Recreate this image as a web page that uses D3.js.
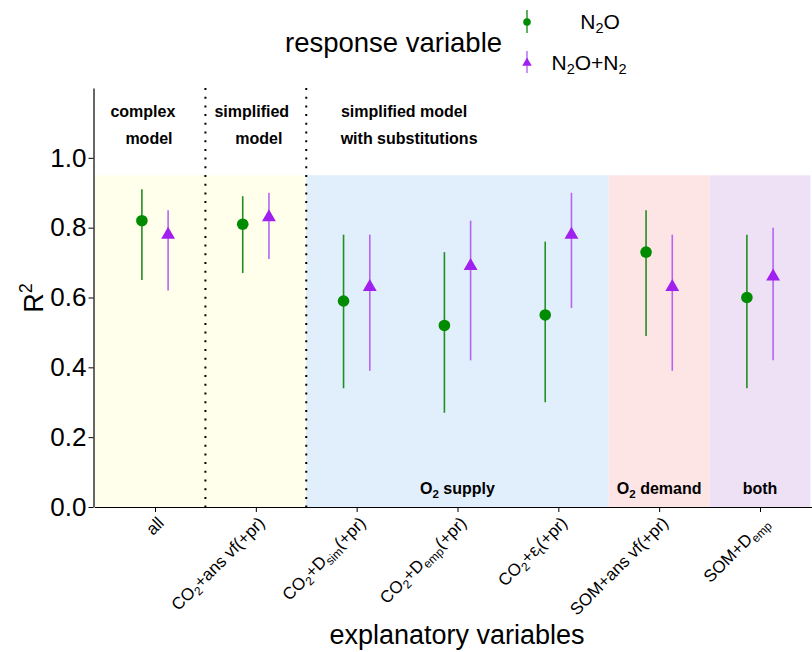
<!DOCTYPE html>
<html><head><meta charset="utf-8">
<script src="https://cdn.jsdelivr.net/npm/d3@7/dist/d3.min.js"></script>
<style>
body{margin:0;background:#fff;}
text{font-family:"Liberation Sans",Arial,Helvetica,sans-serif;}
</style></head>
<body><svg id="c" width="812" height="652"></svg>
<script>
// ---- data ----
const categories = ["all","CO2+ansvf(+pr)","CO2+Dsim(+pr)","CO2+Demp(+pr)","CO2+et(+pr)","SOM+ansvf(+pr)","SOM+Demp"];
// tick label parts: [text, isSub]
const tickLabelParts = [
  [["all",0]],
  [["CO",0],["2",1],["+ans vf(+pr)",0]],
  [["CO",0],["2",1],["+D",0],["sim",1],["(+pr)",0]],
  [["CO",0],["2",1],["+D",0],["emp",1],["(+pr)",0]],
  [["CO",0],["2",1],["+\u03b5",0],["t",1],["(+pr)",0]],
  [["SOM+ans vf(+pr)",0]],
  [["SOM+D",0],["emp",1]]
];
const seriesNames = ["N2O","N2O+N2"];
const n2oR2    = [0.82,0.81,0.59,0.52,0.55,0.73,0.60];
const n2oLow   = [0.65,0.67,0.34,0.27,0.30,0.49,0.34];
const n2oHigh  = [0.91,0.89,0.78,0.73,0.76,0.85,0.78];
const totR2    = [0.78,0.83,0.63,0.69,0.78,0.63,0.66];
const totLow   = [0.62,0.71,0.39,0.42,0.57,0.39,0.42];
const totHigh  = [0.85,0.90,0.78,0.82,0.90,0.78,0.80];
const yTicks = [0,0.2,0.4,0.6,0.8,1.0];
// background regions (in category-index units) and their labels
const regionFrom  = [0.4,2.5,5.5,6.5];
const regionTo    = [2.5,5.5,6.5,7.5];
const regionFills = ["#ffffeb","#e1eefb","#fee5e5","#efe1f5"];
const regionLabels = [null,[["O",0],["2",1],[" supply",0]],[["O",0],["2",1],[" demand",0]],[["both",0]]];
const regionLabelAt = [null,4,6,7];
const separators = [1.5,2.5];
const groupTitles = [["complex","model"],["simplified","model"],["simplified model","with substitutions"]];
const groupTitleAt = [[0.88,0.94],[1.96,2.03],[3.47,3.52]];

// ---- scales ----
const svg = d3.select("#c");
const x = d3.scaleLinear().domain([0.4,7.6]).range([94.5,820.5]);
const y = d3.scaleLinear().domain([0,1.2]).range([507,88]);
const dodge = 0.13;
const green="#008b00", greenLine="#1f8f1f", purple="#a020f0", purpleLine="#b565f2";
const yMax = 0.95;

// backgrounds
svg.append("g").selectAll("rect").data(regionFrom).join("rect")
  .attr("x",(d)=>x(d)).attr("width",(d,i)=>x(regionTo[i])-x(d))
  .attr("y",y(yMax)).attr("height",y(0)-y(yMax))
  .attr("fill",(d,i)=>regionFills[i]);

function addParts(sel, parts, size){
  parts.forEach(([t,sub],k)=>{
    const ts = sel.append("tspan").text(t);
    const prevSub = k>0 && parts[k-1][1];
    if(sub) ts.attr("font-size",size*0.72).attr("dy",size*0.25);
    else if(prevSub) ts.attr("dy",-size*0.25);
  });
}

// region labels
regionLabels.forEach((p,i)=>{
  if(!p) return;
  const t = svg.append("text").attr("x",x(regionLabelAt[i])).attr("y",494)
    .attr("text-anchor","middle").attr("font-size",16).attr("font-weight","bold").attr("fill","#000");
  addParts(t,p,16);
});

// separators
svg.append("g").selectAll("line").data(separators).join("line")
  .attr("x1",d=>x(d)).attr("x2",d=>x(d)).attr("y1",y(1.2)).attr("y2",y(0))
  .attr("stroke","#000").attr("stroke-width",2).attr("stroke-dasharray","2,6.7");

// group titles
groupTitles.forEach((lines,i)=>{
  lines.forEach((l,j)=>{
    svg.append("text").attr("x",x(groupTitleAt[i][j])).attr("y",117+j*27)
      .attr("text-anchor","middle").attr("font-size",16).attr("font-weight","bold").text(l);
  });
});

// axes
const yAxis = svg.append("g").attr("transform",`translate(${x(0.4)-1},0)`)
  .call(d3.axisLeft(y).tickValues(yTicks).tickFormat(d3.format(".1f")).tickSize(5).tickSizeOuter(0));
yAxis.select(".domain").attr("stroke","#000").attr("stroke-width",1.2);
yAxis.selectAll(".tick line").attr("stroke","#000");
yAxis.selectAll(".tick text").attr("font-size",26).attr("fill","#000").attr("x",-7)
  .style("font-family","'Liberation Sans',Arial,sans-serif");

const xIdx = categories.map((c,i)=>i+1);
const xAxis = svg.append("g").attr("transform",`translate(0,${y(0)})`)
  .call(d3.axisBottom(x).tickValues(xIdx).tickFormat("").tickSize(5).tickSizeOuter(0));
xAxis.select(".domain").attr("stroke","#000").attr("stroke-width",1.2);
xAxis.selectAll(".tick line").attr("stroke","#000");
xIdx.forEach((v,i)=>{
  const t = svg.append("text")
    .attr("transform",`translate(${x(v)+10},${y(0)+17}) rotate(-45)`)
    .attr("text-anchor","end").attr("font-size",17).attr("fill","#000");
  tickLabelParts[i].forEach(([s,sub],k)=>{
    const ts = t.append("tspan").text(s);
    const prevSub = k>0 && tickLabelParts[i][k-1][1];
    if(sub) ts.attr("font-size",12).attr("dy",4);
    else if(prevSub) ts.attr("dy",-4);
  });
});

// axis titles
svg.append("text").attr("x",457).attr("y",644).attr("text-anchor","middle")
  .attr("font-size",27).text("explanatory variables");
const yt = svg.append("text").attr("transform","translate(43,298) rotate(-90)")
  .attr("text-anchor","middle").attr("font-size",27);
yt.append("tspan").text("R");
yt.append("tspan").text("2").attr("font-size",18).attr("dy",-11);

// error bars and points
const series = [
  {name:seriesNames[0], r2:n2oR2, lo:n2oLow, hi:n2oHigh, off:-dodge, col:green, line:greenLine, shape:"circle"},
  {name:seriesNames[1], r2:totR2, lo:totLow, hi:totHigh, off:dodge, col:purple, line:purpleLine, shape:"triangle"}
];
const triR = 8;
const triPath = r => `M0,${-r}L${r*0.866},${r/2}L${-r*0.866},${r/2}Z`;
series.forEach(s=>{
  const g = svg.append("g");
  g.selectAll("line").data(xIdx).join("line")
    .attr("x1",(d)=>x(d+s.off)).attr("x2",(d)=>x(d+s.off))
    .attr("y1",(d,i)=>y(s.lo[i])).attr("y2",(d,i)=>y(s.hi[i]))
    .attr("stroke",s.line).attr("stroke-width",1.6);
  if(s.shape==="circle"){
    g.selectAll("circle").data(xIdx).join("circle")
      .attr("cx",d=>x(d+s.off)).attr("cy",(d,i)=>y(s.r2[i])).attr("r",5.8).attr("fill",s.col);
  } else {
    g.selectAll("path").data(xIdx).join("path")
      .attr("transform",(d,i)=>`translate(${x(d+s.off)},${y(s.r2[i])})`)
      .attr("d",triPath(triR)).attr("fill",s.col);
  }
});

// legend
svg.append("text").attr("x",285).attr("y",52).attr("font-size",27.5).text("response variable");
const lg = svg.append("g");
// key 1
lg.append("line").attr("x1",527).attr("x2",527).attr("y1",10).attr("y2",33).attr("stroke",greenLine).attr("stroke-width",1.4);
lg.append("circle").attr("cx",527).attr("cy",22).attr("r",3.8).attr("fill",green);
// key 2
lg.append("line").attr("x1",527).attr("x2",527).attr("y1",51).attr("y2",73).attr("stroke",purpleLine).attr("stroke-width",1.4);
lg.append("path").attr("transform","translate(527,63)").attr("d",triPath(5.5)).attr("fill",purple);
const l1 = lg.append("text").attr("x",600).attr("y",29).attr("text-anchor","middle").attr("font-size",21);
l1.append("tspan").text("N");
l1.append("tspan").text("2").attr("font-size",14.5).attr("dy",4);
l1.append("tspan").text("O").attr("dy",-4);
const l2 = lg.append("text").attr("x",589).attr("y",70).attr("text-anchor","middle").attr("font-size",21);
l2.append("tspan").text("N");
l2.append("tspan").text("2").attr("font-size",14.5).attr("dy",4);
l2.append("tspan").text("O+N").attr("dy",-4);
l2.append("tspan").text("2").attr("font-size",14.5).attr("dy",4);
</script></body></html>
